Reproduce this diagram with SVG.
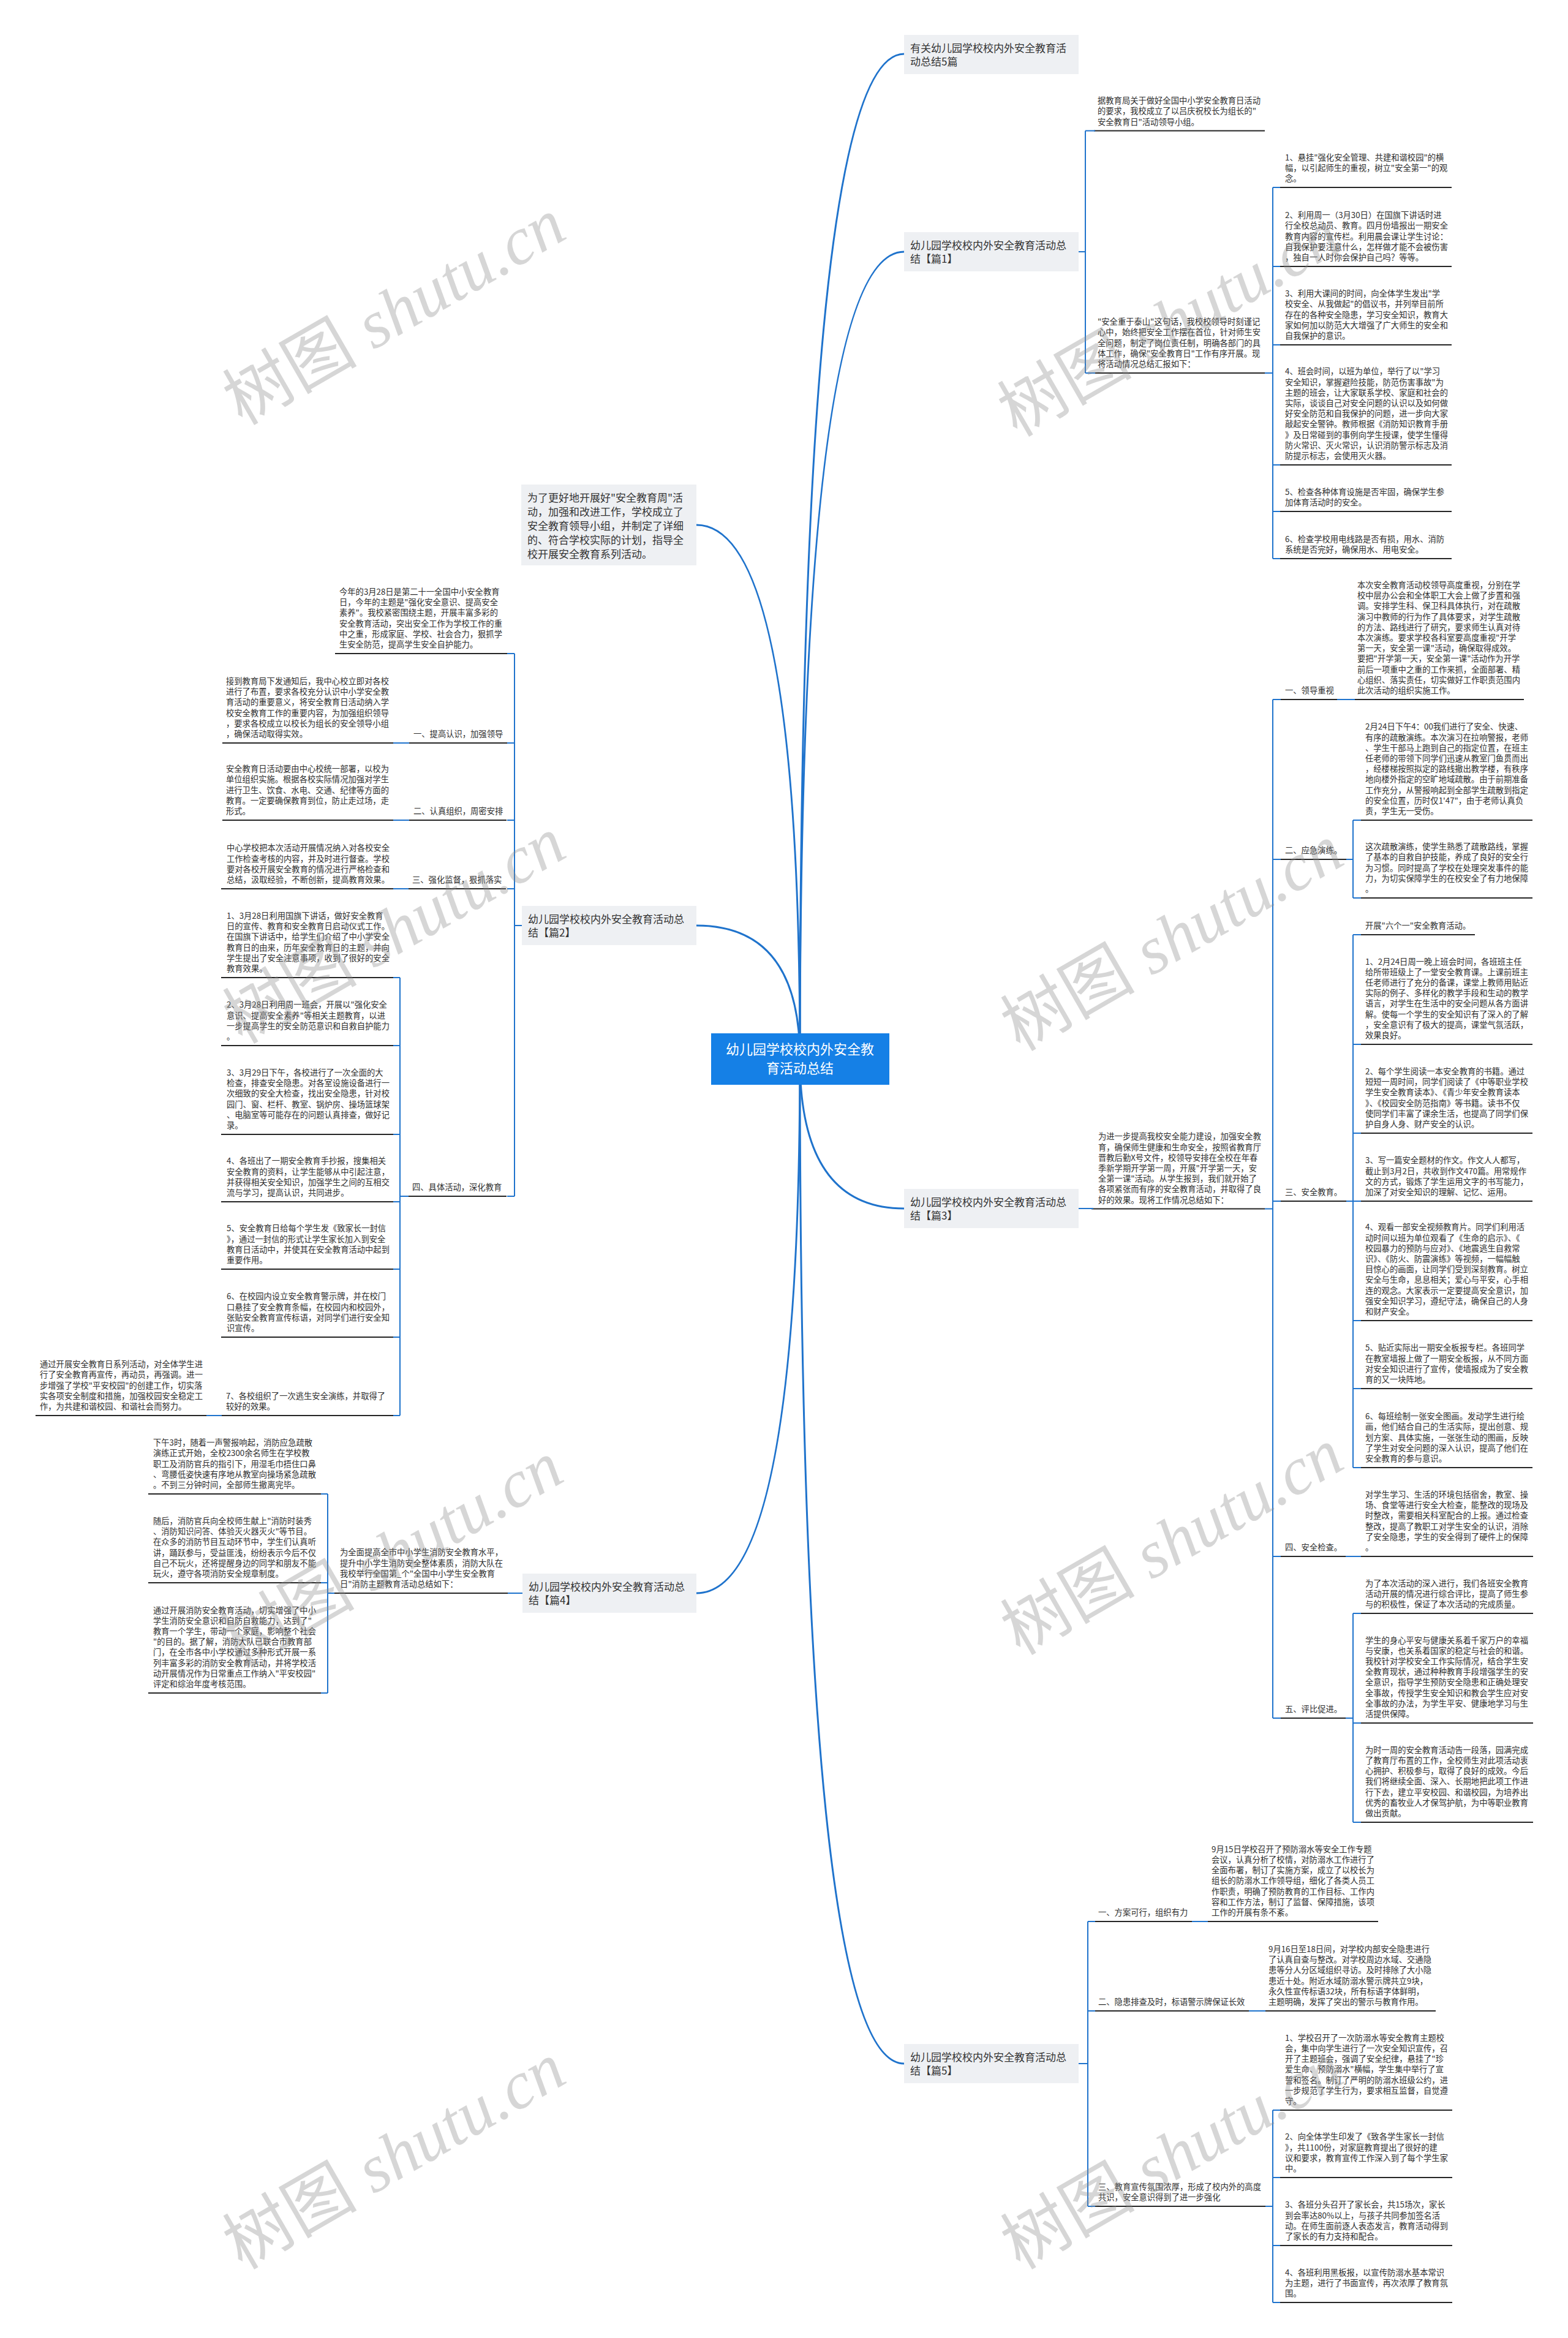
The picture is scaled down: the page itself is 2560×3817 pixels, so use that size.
<svg xmlns="http://www.w3.org/2000/svg" width="2560" height="3817" viewBox="0 0 2560 3817">
<style>
.t{font-family:"Noto Sans CJK SC","Noto Sans",sans-serif;font-size:13.3px;fill:#2e2e2e}
.h{font-family:"Noto Sans CJK SC","Noto Sans",sans-serif;font-size:17px;fill:#333}
.ctr{font-family:"Noto Sans CJK SC","Noto Sans",sans-serif;font-size:22px;fill:#fff;text-anchor:middle}
.box{fill:#eef0f3}
.ul{stroke:#262626;stroke-width:2.2;fill:none}
.cn{stroke:#1f73cc;stroke-width:2;fill:none}
.cv{stroke:#1f73cc;stroke-width:3;fill:none}
.wm{font-family:"Liberation Serif","Noto Sans CJK SC",serif;font-size:110px;fill:#8c8c8c;opacity:.35;text-anchor:middle}
</style>
<rect width="2560" height="3817" fill="#fff"/>

<g id="n-top"><rect class="box" x="1476" y="57" width="285" height="64"/><text class="h"><tspan x="1486" y="84.5">有关幼儿园学校校内外安全教育活</tspan><tspan x="1486" y="106.5">动总结5篇</tspan></text></g>
<g id="n-p1"><rect class="box" x="1476" y="379" width="285" height="64"/><text class="h"><tspan x="1486" y="406.5">幼儿园学校校内外安全教育活动总</tspan><tspan x="1486" y="428.5">结【篇1】</tspan></text></g>
<g id="n-intro"><rect class="box" x="851" y="791" width="286" height="132"/><text class="h"><tspan x="861" y="818.5">为了更好地开展好"安全教育周"活</tspan><tspan x="861" y="841.5">动，加强和改进工作，学校成立了</tspan><tspan x="861" y="864.5">安全教育领导小组，并制定了详细</tspan><tspan x="861" y="887.5">的、符合学校实际的计划，指导全</tspan><tspan x="861" y="910.5">校开展安全教育系列活动。</tspan></text></g>
<g id="n-p2"><rect class="box" x="852" y="1479" width="285" height="64"/><text class="h"><tspan x="862" y="1506.5">幼儿园学校校内外安全教育活动总</tspan><tspan x="862" y="1528.5">结【篇2】</tspan></text></g>
<g id="n-p3"><rect class="box" x="1476" y="1941" width="285" height="64"/><text class="h"><tspan x="1486" y="1968.5">幼儿园学校校内外安全教育活动总</tspan><tspan x="1486" y="1990.5">结【篇3】</tspan></text></g>
<g id="n-p4"><rect class="box" x="853" y="2569" width="284" height="64"/><text class="h"><tspan x="863" y="2596.5">幼儿园学校校内外安全教育活动总</tspan><tspan x="863" y="2618.5">结【篇4】</tspan></text></g>
<g id="n-p5"><rect class="box" x="1476" y="3337" width="285" height="64"/><text class="h"><tspan x="1486" y="3364.5">幼儿园学校校内外安全教育活动总</tspan><tspan x="1486" y="3386.5">结【篇5】</tspan></text></g>

<!-- 篇1 -->
<g id="n-a1"><line class="ul" x1="1786" y1="213.5" x2="2065" y2="213.5"/><text class="t"><tspan x="1792" y="169.1">据教育局关于做好全国中小学安全教育日活动</tspan><tspan x="1792" y="186.3">的要求，我校成立了以吕庆祝校长为组长的"</tspan><tspan x="1792" y="203.5">安全教育日"活动领导小组。</tspan></text></g>
<g id="n-a2"><line class="ul" x1="1786" y1="609" x2="2065" y2="609"/><text class="t"><tspan x="1792" y="530.2">"安全重于泰山"这句话，我校校领导时刻谨记</tspan><tspan x="1792" y="547.4">心中，始终把安全工作摆在首位，针对师生安</tspan><tspan x="1792" y="564.6">全问题，制定了岗位责任制，明确各部门的具</tspan><tspan x="1792" y="581.8">体工作，确保"安全教育日"工作有序开展。现</tspan><tspan x="1792" y="599">将活动情况总结汇报如下：</tspan></text></g>
<g id="n-i1"><line class="ul" x1="2088" y1="306" x2="2370" y2="306"/><text class="t"><tspan x="2098" y="261.6">1、悬挂"强化安全管理、共建和谐校园"的横</tspan><tspan x="2098" y="278.8">幅，以引起师生的重视，树立"安全第一"的观</tspan><tspan x="2098" y="296">念。</tspan></text></g>
<g id="n-i2"><line class="ul" x1="2088" y1="435" x2="2370" y2="435"/><text class="t"><tspan x="2098" y="356.2">2、利用周一（3月30日）在国旗下讲话时进</tspan><tspan x="2098" y="373.4">行全校总动员、教育。四月份墙报出一期安全</tspan><tspan x="2098" y="390.6">教育内容的宣传栏。利用晨会课让学生讨论：</tspan><tspan x="2098" y="407.8">自我保护要注意什么，怎样做才能不会被伤害</tspan><tspan x="2098" y="425">，独自一人时你会保护自己吗？等等。</tspan></text></g>
<g id="n-i3"><line class="ul" x1="2088" y1="563" x2="2370" y2="563"/><text class="t"><tspan x="2098" y="484.2">3、利用大课间的时间，向全体学生发出"学</tspan><tspan x="2098" y="501.4">校安全、从我做起"的倡议书，并列举目前所</tspan><tspan x="2098" y="518.6">存在的各种安全隐患，学习安全知识，教育大</tspan><tspan x="2098" y="535.8">家如何加以防范大大增强了广大师生的安全和</tspan><tspan x="2098" y="553">自我保护的意识。</tspan></text></g>
<g id="n-i4"><line class="ul" x1="2088" y1="759" x2="2370" y2="759"/><text class="t"><tspan x="2098" y="611.4">4、班会时间，以班为单位，举行了以"学习</tspan><tspan x="2098" y="628.6">安全知识，掌握避险技能，防范伤害事故"为</tspan><tspan x="2098" y="645.8">主题的班会，让大家联系学校、家庭和社会的</tspan><tspan x="2098" y="663">实际，谈谈自己对安全问题的认识以及如何做</tspan><tspan x="2098" y="680.2">好安全防范和自我保护的问题，进一步向大家</tspan><tspan x="2098" y="697.4">敲起安全警钟。教师根据《消防知识教育手册</tspan><tspan x="2098" y="714.6">》及日常碰到的事例向学生授课，使学生懂得</tspan><tspan x="2098" y="731.8">防火常识、灭火常识，认识消防警示标志及消</tspan><tspan x="2098" y="749">防提示标志，会使用灭火器。</tspan></text></g>
<g id="n-i5"><line class="ul" x1="2088" y1="835" x2="2370" y2="835"/><text class="t"><tspan x="2098" y="807.8">5、检查各种体育设施是否牢固，确保学生参</tspan><tspan x="2098" y="825">加体育活动时的安全。</tspan></text></g>
<g id="n-i6"><line class="ul" x1="2088" y1="912" x2="2370" y2="912"/><text class="t"><tspan x="2098" y="884.8">6、检查学校用电线路是否有损，用水、消防</tspan><tspan x="2098" y="902">系统是否完好，确保用水、用电安全。</tspan></text></g>

<!-- 篇2 -->
<g id="n-b1"><line class="ul" x1="547" y1="1067" x2="830" y2="1067"/><text class="t"><tspan x="554" y="971">今年的3月28日是第二十一全国中小安全教育</tspan><tspan x="554" y="988.2">日，今年的主题是"强化安全意识、提高安全</tspan><tspan x="554" y="1005.4">素养"。我校紧密围绕主题，开展丰富多彩的</tspan><tspan x="554" y="1022.6">安全教育活动，突出安全工作为学校工作的重</tspan><tspan x="554" y="1039.8">中之重，形成家庭、学校、社会合力，狠抓学</tspan><tspan x="554" y="1057">生安全防范，提高学生安全自护能力。</tspan></text></g>
<g id="n-b2"><line class="ul" x1="668" y1="1213" x2="828" y2="1213"/><text class="t"><tspan x="675" y="1203">一、提高认识，加强领导</tspan></text></g>
<g id="n-b2c"><line class="ul" x1="363" y1="1213" x2="642" y2="1213"/><text class="t"><tspan x="369" y="1117">接到教育局下发通知后，我中心校立即对各校</tspan><tspan x="369" y="1134.2">进行了布置，要求各校充分认识中小学安全教</tspan><tspan x="369" y="1151.4">育活动的重要意义，将安全教育日活动纳入学</tspan><tspan x="369" y="1168.6">校安全教育工作的重要内容，为加强组织领导</tspan><tspan x="369" y="1185.8">，要求各校成立以校长为组长的安全领导小组</tspan><tspan x="369" y="1203">，确保活动取得实效。</tspan></text></g>
<g id="n-b3"><line class="ul" x1="668" y1="1339" x2="827" y2="1339"/><text class="t"><tspan x="675" y="1329">二、认真组织，周密安排</tspan></text></g>
<g id="n-b3c"><line class="ul" x1="363" y1="1339" x2="642" y2="1339"/><text class="t"><tspan x="369" y="1260.2">安全教育日活动要由中心校统一部署，以校为</tspan><tspan x="369" y="1277.4">单位组织实施。根据各校实际情况加强对学生</tspan><tspan x="369" y="1294.6">进行卫生、饮食、水电、交通、纪律等方面的</tspan><tspan x="369" y="1311.8">教育。一定要确保教育到位，防止走过场，走</tspan><tspan x="369" y="1329">形式。</tspan></text></g>
<g id="n-b4"><line class="ul" x1="667" y1="1451" x2="826" y2="1451"/><text class="t"><tspan x="673" y="1441">三、强化监督，狠抓落实</tspan></text></g>
<g id="n-b4c"><line class="ul" x1="361" y1="1451" x2="642" y2="1451"/><text class="t"><tspan x="370" y="1389.4">中心学校把本次活动开展情况纳入对各校安全</tspan><tspan x="370" y="1406.6">工作检查考核的内容，并及时进行督查。学校</tspan><tspan x="370" y="1423.8">要对各校开展安全教育的情况进行严格检查和</tspan><tspan x="370" y="1441">总结，汲取经验，不断创新，提高教育效果。</tspan></text></g>
<g id="n-b5"><line class="ul" x1="667" y1="1953" x2="827" y2="1953"/><text class="t"><tspan x="673" y="1943">四、具体活动，深化教育</tspan></text></g>
<g id="n-c1"><line class="ul" x1="361" y1="1596" x2="642" y2="1596"/><text class="t"><tspan x="370" y="1500">1、3月28日利用国旗下讲话，做好安全教育</tspan><tspan x="370" y="1517.2">日的宣传、教育和安全教育日启动仪式工作。</tspan><tspan x="370" y="1534.4">在国旗下讲话中，给学生们介绍了中小学安全</tspan><tspan x="370" y="1551.6">教育日的由来，历年安全教育日的主题，并向</tspan><tspan x="370" y="1568.8">学生提出了安全注意事项，收到了很好的安全</tspan><tspan x="370" y="1586">教育效果。</tspan></text></g>
<g id="n-c2"><line class="ul" x1="361" y1="1707" x2="642" y2="1707"/><text class="t"><tspan x="370" y="1645.4">2、3月28日利用周一班会，开展以"强化安全</tspan><tspan x="370" y="1662.6">意识、提高安全素养"等相关主题教育，以进</tspan><tspan x="370" y="1679.8">一步提高学生的安全防范意识和自救自护能力</tspan><tspan x="370" y="1697">。</tspan></text></g>
<g id="n-c3"><line class="ul" x1="361" y1="1852" x2="642" y2="1852"/><text class="t"><tspan x="370" y="1756">3、3月29日下午，各校进行了一次全面的大</tspan><tspan x="370" y="1773.2">检查，排查安全隐患。对各室设施设备进行一</tspan><tspan x="370" y="1790.4">次细致的安全大检查，找出安全隐患，针对校</tspan><tspan x="370" y="1807.6">园门、窗、栏杆、教室、锅炉房、操场篮球架</tspan><tspan x="370" y="1824.8">、电脑室等可能存在的问题认真排查，做好记</tspan><tspan x="370" y="1842">录。</tspan></text></g>
<g id="n-c4"><line class="ul" x1="361" y1="1962" x2="642" y2="1962"/><text class="t"><tspan x="370" y="1900.4">4、各班出了一期安全教育手抄报，搜集相关</tspan><tspan x="370" y="1917.6">安全教育的资料，让学生能够从中引起注意，</tspan><tspan x="370" y="1934.8">并获得相关安全知识，加强学生之间的互相交</tspan><tspan x="370" y="1952">流与学习，提高认识，共同进步。</tspan></text></g>
<g id="n-c5"><line class="ul" x1="361" y1="2072" x2="642" y2="2072"/><text class="t"><tspan x="370" y="2010.4">5、安全教育日给每个学生发《致家长一封信</tspan><tspan x="370" y="2027.6">》，通过一封信的形式让学生家长加入到安全</tspan><tspan x="370" y="2044.8">教育日活动中，并使其在安全教育活动中起到</tspan><tspan x="370" y="2062">重要作用。</tspan></text></g>
<g id="n-c6"><line class="ul" x1="361" y1="2183" x2="642" y2="2183"/><text class="t"><tspan x="370" y="2121.4">6、在校园内设立安全教育警示牌，并在校门</tspan><tspan x="370" y="2138.6">口悬挂了安全教育条幅，在校园内和校园外，</tspan><tspan x="370" y="2155.8">张贴安全教育宣传标语，对同学们进行安全知</tspan><tspan x="370" y="2173">识宣传。</tspan></text></g>
<g id="n-c7"><line class="ul" x1="362" y1="2311" x2="644" y2="2311"/><text class="t"><tspan x="369" y="2283.8">7、各校组织了一次逃生安全演练，并取得了</tspan><tspan x="369" y="2301">较好的效果。</tspan></text></g>
<g id="n-c7c"><line class="ul" x1="58" y1="2311" x2="337" y2="2311"/><text class="t"><tspan x="65" y="2232.2">通过开展安全教育日系列活动，对全体学生进</tspan><tspan x="65" y="2249.4">行了安全教育再宣传，再动员，再强调。进一</tspan><tspan x="65" y="2266.6">步增强了学校"平安校园"的创建工作，切实落</tspan><tspan x="65" y="2283.8">实各项安全制度和措施，加强校园安全稳定工</tspan><tspan x="65" y="2301">作，为共建和谐校园、和谐社会而努力。</tspan></text></g>

<!-- 篇4 -->
<g id="n-d0"><line class="ul" x1="546" y1="2601" x2="829" y2="2601"/><text class="t"><tspan x="555" y="2539.4">为全面提高全市中小学生消防安全教育水平，</tspan><tspan x="555" y="2556.6">提升中小学生消防安全整体素质，消防大队在</tspan><tspan x="555" y="2573.8">我校举行全国第_个"全国中小学生安全教育</tspan><tspan x="555" y="2591">日"消防主题教育活动总结如下：</tspan></text></g>
<g id="n-d1"><line class="ul" x1="242" y1="2439" x2="526" y2="2439"/><text class="t"><tspan x="250" y="2360.2">下午3时，随着一声警报响起，消防应急疏散</tspan><tspan x="250" y="2377.4">演练正式开始，全校2300余名师生在学校教</tspan><tspan x="250" y="2394.6">职工及消防官兵的指引下，用湿毛巾捂住口鼻</tspan><tspan x="250" y="2411.8">、弯腰低姿快速有序地从教室向操场紧急疏散</tspan><tspan x="250" y="2429">。不到三分钟时间，全部师生撤离完毕。</tspan></text></g>
<g id="n-d2"><line class="ul" x1="242" y1="2584" x2="526" y2="2584"/><text class="t"><tspan x="250" y="2488">随后，消防官兵向全校师生献上"消防时装秀</tspan><tspan x="250" y="2505.2">、消防知识问答、体验灭火器灭火"等节目。</tspan><tspan x="250" y="2522.4">在众多的消防节目互动环节中，学生们认真听</tspan><tspan x="250" y="2539.6">讲，踊跃参与，受益匪浅，纷纷表示今后不仅</tspan><tspan x="250" y="2556.8">自己不玩火，还将提醒身边的同学和朋友不能</tspan><tspan x="250" y="2574">玩火，遵守各项消防安全规章制度。</tspan></text></g>
<g id="n-d3"><line class="ul" x1="242" y1="2764" x2="526" y2="2764"/><text class="t"><tspan x="250" y="2633.6">通过开展消防安全教育活动，切实增强了中小</tspan><tspan x="250" y="2650.8">学生消防安全意识和自防自救能力，达到了"</tspan><tspan x="250" y="2668">教育一个学生，带动一个家庭，影响整个社会</tspan><tspan x="250" y="2685.2">"的目的。据了解，消防大队已联合市教育部</tspan><tspan x="250" y="2702.4">门，在全市各中小学校通过多种形式开展一系</tspan><tspan x="250" y="2719.6">列丰富多彩的消防安全教育活动，并将学校活</tspan><tspan x="250" y="2736.8">动开展情况作为日常重点工作纳入"平安校园"</tspan><tspan x="250" y="2754">评定和综治年度考核范围。</tspan></text></g>

<!-- 篇3 -->
<g id="n-e0"><line class="ul" x1="1782" y1="1973.5" x2="2065" y2="1973.5"/><text class="t"><tspan x="1793" y="1860.3">为进一步提高我校安全能力建设，加强安全教</tspan><tspan x="1793" y="1877.5">育，确保师生健康和生命安全，按照省教育厅</tspan><tspan x="1793" y="1894.7">晋教后勤X号文件，校领导安排在全校在年春</tspan><tspan x="1793" y="1911.9">季新学期开学第一周，开展"开学第一天，安</tspan><tspan x="1793" y="1929.1">全第一课"活动。从学生报到，我们就开始了</tspan><tspan x="1793" y="1946.3">各项紧张而有序的安全教育活动，并取得了良</tspan><tspan x="1793" y="1963.5">好的效果。现将工作情况总结如下：</tspan></text></g>
<g id="n-l1"><line class="ul" x1="2091" y1="1142" x2="2183" y2="1142"/><text class="t"><tspan x="2098" y="1132">一、领导重视</tspan></text></g>
<g id="n-l1c"><line class="ul" x1="2209" y1="1142" x2="2488" y2="1142"/><text class="t"><tspan x="2216" y="960">本次安全教育活动校领导高度重视，分别在学</tspan><tspan x="2216" y="977.2">校中层办公会和全体职工大会上做了步置和强</tspan><tspan x="2216" y="994.4">调。安排学生科、保卫科具体执行，对在疏散</tspan><tspan x="2216" y="1011.6">演习中教师的行为作了具体要求，对学生疏散</tspan><tspan x="2216" y="1028.8">的方法、路线进行了研究，要求师生认真对待</tspan><tspan x="2216" y="1046">本次演练。要求学校各科室要高度重视"开学</tspan><tspan x="2216" y="1063.2">第一天，安全第一课"活动，确保取得成效。</tspan><tspan x="2216" y="1080.4">要把"开学第一天，安全第一课"活动作为开学</tspan><tspan x="2216" y="1097.6">前后一项重中之重的工作来抓，全面部署、精</tspan><tspan x="2216" y="1114.8">心组织、落实责任，切实做好工作职责范围内</tspan><tspan x="2216" y="1132">此次活动的组织实施工作。</tspan></text></g>
<g id="n-l2"><line class="ul" x1="2091" y1="1403" x2="2198" y2="1403"/><text class="t"><tspan x="2098" y="1393">二、应急演练。</tspan></text></g>
<g id="n-l2a"><line class="ul" x1="2209" y1="1339" x2="2502" y2="1339"/><text class="t"><tspan x="2229" y="1191.4">2月24日下午4：00我们进行了安全、快速、</tspan><tspan x="2229" y="1208.6">有序的疏散演练。本次演习在拉响警报，老师</tspan><tspan x="2229" y="1225.8">、学生干部马上跑到自己的指定位置，在班主</tspan><tspan x="2229" y="1243">任老师的带领下同学们迅速从教室门鱼贯而出</tspan><tspan x="2229" y="1260.2">，经楼梯按照拟定的路线撤出教学楼，有秩序</tspan><tspan x="2229" y="1277.4">地向楼外指定的空旷地域疏散。由于前期准备</tspan><tspan x="2229" y="1294.6">工作充分，从警报响起到全部学生疏散到指定</tspan><tspan x="2229" y="1311.8">的安全位置，历时仅1'47"，由于老师认真负</tspan><tspan x="2229" y="1329">责，学生无一受伤。</tspan></text></g>
<g id="n-l2b"><line class="ul" x1="2209" y1="1466" x2="2502" y2="1466"/><text class="t"><tspan x="2229" y="1387.2">这次疏散演练，使学生熟悉了疏散路线，掌握</tspan><tspan x="2229" y="1404.4">了基本的自救自护技能，养成了良好的安全行</tspan><tspan x="2229" y="1421.6">为习惯。同时提高了学校在处理突发事件的能</tspan><tspan x="2229" y="1438.8">力，为切实保障学生的在校安全了有力地保障</tspan><tspan x="2229" y="1456">。</tspan></text></g>
<g id="n-l3"><line class="ul" x1="2091" y1="1961" x2="2198" y2="1961"/><text class="t"><tspan x="2098" y="1951">三、安全教育。</tspan></text></g>
<g id="n-l3a"><line class="ul" x1="2209" y1="1526" x2="2408" y2="1526"/><text class="t"><tspan x="2229" y="1516">开展"六个一"安全教育活动。</tspan></text></g>
<g id="n-l3b"><line class="ul" x1="2209" y1="1705" x2="2502" y2="1705"/><text class="t"><tspan x="2229" y="1574.6">1、2月24日周一晚上班会时间，各班班主任</tspan><tspan x="2229" y="1591.8">给所带班级上了一堂安全教育课。上课前班主</tspan><tspan x="2229" y="1609">任老师进行了充分的备课，课堂上教师用贴近</tspan><tspan x="2229" y="1626.2">实际的例子、多样化的教学手段和生动的教学</tspan><tspan x="2229" y="1643.4">语言，对学生在生活中的安全问题从各方面讲</tspan><tspan x="2229" y="1660.6">解。使每一个学生的安全知识有了深入的了解</tspan><tspan x="2229" y="1677.8">，安全意识有了极大的提高，课堂气氛活跃，</tspan><tspan x="2229" y="1695">效果良好。</tspan></text></g>
<g id="n-l3c"><line class="ul" x1="2209" y1="1850" x2="2502" y2="1850"/><text class="t"><tspan x="2229" y="1754">2、每个学生阅读一本安全教育的书籍。通过</tspan><tspan x="2229" y="1771.2">短短一周时间，同学们阅读了《中等职业学校</tspan><tspan x="2229" y="1788.4">学生安全教育读本》、《青少年安全教育读本</tspan><tspan x="2229" y="1805.6">》、《校园安全防范指南》等书籍。读书不仅</tspan><tspan x="2229" y="1822.8">使同学们丰富了课余生活，也提高了同学们保</tspan><tspan x="2229" y="1840">护自身人身、财产安全的认识。</tspan></text></g>
<g id="n-l3d"><line class="ul" x1="2209" y1="1961" x2="2502" y2="1961"/><text class="t"><tspan x="2229" y="1899.4">3、写一篇安全题材的作文。作文人人都写，</tspan><tspan x="2229" y="1916.6">截止到3月2日，共收到作文470篇。用常规作</tspan><tspan x="2229" y="1933.8">文的方式，锻炼了学生运用文字的书写能力，</tspan><tspan x="2229" y="1951">加深了对安全知识的理解、记忆、运用。</tspan></text></g>
<g id="n-l3e"><line class="ul" x1="2209" y1="2156" x2="2502" y2="2156"/><text class="t"><tspan x="2229" y="2008.4">4、观看一部安全视频教育片。同学们利用活</tspan><tspan x="2229" y="2025.6">动时间以班为单位观看了《生命的启示》、《</tspan><tspan x="2229" y="2042.8">校园暴力的预防与应对》、《地震逃生自救常</tspan><tspan x="2229" y="2060">识》、《防火、防震演练》等视频，一幅幅触</tspan><tspan x="2229" y="2077.2">目惊心的画面，让同学们受到深刻教育。树立</tspan><tspan x="2229" y="2094.4">安全与生命，息息相关；爱心与平安，心手相</tspan><tspan x="2229" y="2111.6">连的观念。大家表示一定要提高安全意识，加</tspan><tspan x="2229" y="2128.8">强安全知识学习，遵纪守法，确保自己的人身</tspan><tspan x="2229" y="2146">和财产安全。</tspan></text></g>
<g id="n-l3f"><line class="ul" x1="2209" y1="2267" x2="2502" y2="2267"/><text class="t"><tspan x="2229" y="2205.4">5、贴近实际出一期安全板报专栏。各班同学</tspan><tspan x="2229" y="2222.6">在教室墙报上做了一期安全板报，从不同方面</tspan><tspan x="2229" y="2239.8">对安全知识进行了宣传，使墙报成为了安全教</tspan><tspan x="2229" y="2257">育的又一块阵地。</tspan></text></g>
<g id="n-l3g"><line class="ul" x1="2209" y1="2396" x2="2502" y2="2396"/><text class="t"><tspan x="2229" y="2317.2">6、每班绘制一张安全图画。发动学生进行绘</tspan><tspan x="2229" y="2334.4">画，他们结合自己的生活实际，提出创意、规</tspan><tspan x="2229" y="2351.6">划方案、具体实施，一张张生动的图画，反映</tspan><tspan x="2229" y="2368.8">了学生对安全问题的深入认识，提高了他们在</tspan><tspan x="2229" y="2386">安全教育的参与意识。</tspan></text></g>
<g id="n-l4"><line class="ul" x1="2090" y1="2541" x2="2197" y2="2541"/><text class="t"><tspan x="2098" y="2531">四、安全检查。</tspan></text></g>
<g id="n-l4c"><line class="ul" x1="2209" y1="2541" x2="2503" y2="2541"/><text class="t"><tspan x="2229" y="2445">对学生学习、生活的环境包括宿舍，教室、操</tspan><tspan x="2229" y="2462.2">场、食堂等进行安全大检查，能整改的现场及</tspan><tspan x="2229" y="2479.4">时整改，需要相关科室配合的上报。通过检查</tspan><tspan x="2229" y="2496.6">整改，提高了教职工对学生安全的认识，消除</tspan><tspan x="2229" y="2513.8">了安全隐患，学生的安全得到了硬件上的保障</tspan><tspan x="2229" y="2531">。</tspan></text></g>
<g id="n-l5"><line class="ul" x1="2090" y1="2805" x2="2197" y2="2805"/><text class="t"><tspan x="2098" y="2795">五、评比促进。</tspan></text></g>
<g id="n-l5a"><line class="ul" x1="2209" y1="2634" x2="2503" y2="2634"/><text class="t"><tspan x="2229" y="2589.6">为了本次活动的深入进行，我们各班安全教育</tspan><tspan x="2229" y="2606.8">活动开展的情况进行综合评比，提高了师生参</tspan><tspan x="2229" y="2624">与的积极性，保证了本次活动的完成质量。</tspan></text></g>
<g id="n-l5b"><line class="ul" x1="2209" y1="2813" x2="2503" y2="2813"/><text class="t"><tspan x="2229" y="2682.6">学生的身心平安与健康关系着千家万户的幸福</tspan><tspan x="2229" y="2699.8">与安康，也关系着国家的稳定与社会的和谐。</tspan><tspan x="2229" y="2717">我校针对学校安全工作实际情况，结合学生安</tspan><tspan x="2229" y="2734.2">全教育现状，通过种种教育手段增强学生的安</tspan><tspan x="2229" y="2751.4">全意识，指导学生预防安全隐患和正确处理安</tspan><tspan x="2229" y="2768.6">全事故，传授学生安全知识和教会学生应对安</tspan><tspan x="2229" y="2785.8">全事故的办法，为学生平安、健康地学习与生</tspan><tspan x="2229" y="2803">活提供保障。</tspan></text></g>
<g id="n-l5c"><line class="ul" x1="2209" y1="2975" x2="2503" y2="2975"/><text class="t"><tspan x="2229" y="2861.8">为时一周的安全教育活动告一段落，园满完成</tspan><tspan x="2229" y="2879">了教育厅布置的工作，全校师生对此项活动衷</tspan><tspan x="2229" y="2896.2">心拥护、积极参与，取得了良好的成效。今后</tspan><tspan x="2229" y="2913.4">我们将继续全面、深入、长期地把此项工作进</tspan><tspan x="2229" y="2930.6">行下去，建立平安校园、和谐校园，为培养出</tspan><tspan x="2229" y="2947.8">优秀的畜牧业人才保驾护航，为中等职业教育</tspan><tspan x="2229" y="2965">做出贡献。</tspan></text></g>

<!-- 篇5 -->
<g id="n-f1"><line class="ul" x1="1786" y1="3137" x2="1946" y2="3137"/><text class="t"><tspan x="1793" y="3127">一、方案可行，组织有力</tspan></text></g>
<g id="n-f1c"><line class="ul" x1="1970" y1="3137" x2="2250" y2="3137"/><text class="t"><tspan x="1978" y="3023.8">9月15日学校召开了预防溺水等安全工作专题</tspan><tspan x="1978" y="3041">会议，认真分析了校情，对防溺水工作进行了</tspan><tspan x="1978" y="3058.2">全面布署，制订了实施方案，成立了以校长为</tspan><tspan x="1978" y="3075.4">组长的防溺水工作领导组，细化了各类人员工</tspan><tspan x="1978" y="3092.6">作职责，明确了预防教育的工作目标、工作内</tspan><tspan x="1978" y="3109.8">容和工作方法，制订了监督、保障措施，该项</tspan><tspan x="1978" y="3127">工作的开展有条不紊。</tspan></text></g>
<g id="n-f2"><line class="ul" x1="1786" y1="3283" x2="2039" y2="3283"/><text class="t"><tspan x="1793" y="3273">二、隐患排查及时，标语警示牌保证长效</tspan></text></g>
<g id="n-f2c"><line class="ul" x1="2064" y1="3283" x2="2344" y2="3283"/><text class="t"><tspan x="2071" y="3187">9月16日至18日间，对学校内部安全隐患进行</tspan><tspan x="2071" y="3204.2">了认真自查与整改。对学校周边水域、交通隐</tspan><tspan x="2071" y="3221.4">患等分人分区域组织寻访。及时排除了大小隐</tspan><tspan x="2071" y="3238.6">患近十处。附近水域防溺水警示牌共立9块，</tspan><tspan x="2071" y="3255.8">永久性宣传标语32块，所有标语字体鲜明，</tspan><tspan x="2071" y="3273">主题明确，发挥了突出的警示与教育作用。</tspan></text></g>
<g id="n-f3"><line class="ul" x1="1786" y1="3602" x2="2066" y2="3602"/><text class="t"><tspan x="1793" y="3574.8">三、教育宣传氛围浓厚，形成了校内外的高度</tspan><tspan x="1793" y="3592">共识，安全意识得到了进一步强化</tspan></text></g>
<g id="n-f3a"><line class="ul" x1="2088" y1="3445" x2="2371" y2="3445"/><text class="t"><tspan x="2098" y="3331.8">1、学校召开了一次防溺水等安全教育主题校</tspan><tspan x="2098" y="3349">会，集中向学生进行了一次安全知识宣传，召</tspan><tspan x="2098" y="3366.2">开了主题班会，强调了安全纪律，悬挂了"珍</tspan><tspan x="2098" y="3383.4">爱生命、预防溺水"横幅，学生集中举行了宣</tspan><tspan x="2098" y="3400.6">誓和签名。制订了严明的防溺水班级公约，进</tspan><tspan x="2098" y="3417.8">一步规范了学生行为，要求相互监督，自觉遵</tspan><tspan x="2098" y="3435">守。</tspan></text></g>
<g id="n-f3b"><line class="ul" x1="2088" y1="3555" x2="2371" y2="3555"/><text class="t"><tspan x="2098" y="3493.4">2、向全体学生印发了《致各学生家长一封信</tspan><tspan x="2098" y="3510.6">》，共1100份，对家庭教育提出了很好的建</tspan><tspan x="2098" y="3527.8">议和要求，教育宣传工作深入到了每个学生家</tspan><tspan x="2098" y="3545">中。</tspan></text></g>
<g id="n-f3c"><line class="ul" x1="2088" y1="3666" x2="2371" y2="3666"/><text class="t"><tspan x="2098" y="3604.4">3、各班分头召开了家长会，共15场次，家长</tspan><tspan x="2098" y="3621.6">到会率达80%以上，与孩子共同参加签名活</tspan><tspan x="2098" y="3638.8">动。在师生面前逐人表态发言，教育活动得到</tspan><tspan x="2098" y="3656">了家长的有力支持和配合。</tspan></text></g>
<g id="n-f3d"><line class="ul" x1="2088" y1="3759" x2="2371" y2="3759"/><text class="t"><tspan x="2098" y="3714.6">4、各班利用黑板报，以宣传防溺水基本常识</tspan><tspan x="2098" y="3731.8">为主题，进行了书面宣传，再次浓厚了教育氛</tspan><tspan x="2098" y="3749">围。</tspan></text></g>

<g id="connectors">
<path class="cv" d="M1306 1729Q1306 88 1476 88"/>
<path class="cv" d="M1306 1729Q1306 411 1476 411"/>
<path class="cv" d="M1306 1729Q1306 857 1137 857"/>
<path class="cv" d="M1306 1729Q1306 1511 1137 1511"/>
<path class="cv" d="M1306 1729Q1306 1973 1476 1973"/>
<path class="cv" d="M1306 1729Q1306 2601 1137 2601"/>
<path class="cv" d="M1306 1729Q1306 3369 1476 3369"/>
<path class="cn" d="M1761 411H1772M1772 213.5V609M1772 213.5H1788M1772 609H1788"/>
<path class="cn" d="M2065 609H2078M2078 306V912M2078 306H2090M2078 435H2090M2078 563H2090M2078 759H2090M2078 835H2090M2078 912H2090"/>
<path class="cn" d="M852 1511H840M840 1067V1953M840 1067H828M840 1213H828M840 1339H828M840 1451H828M840 1953H828"/>
<path class="cn" d="M668 1213H642M668 1339H642M667 1451H642"/>
<path class="cn" d="M667 1953H653M653 1596V2311M653 1596H642M653 1707H642M653 1852H642M653 1962H642M653 2072H642M653 2183H642M653 2311H642"/>
<path class="cn" d="M362 2311H337"/>
<path class="cn" d="M853 2601H829M546 2601H535M535 2439V2764M535 2439H524M535 2584H524M535 2764H524"/>
<path class="cn" d="M1761 1973H1785M2065 1973.5H2078M2078 1142V2805M2078 1142H2091M2078 1403H2091M2078 1961H2091M2078 2541H2091M2078 2805H2091"/>
<path class="cn" d="M2183 1142H2212"/>
<path class="cn" d="M2198 1403H2209M2209 1339V1466M2209 1339H2222M2209 1466H2222"/>
<path class="cn" d="M2198 1961H2209M2209 1526V2396M2209 1526H2222M2209 1705H2222M2209 1850H2222M2209 1961H2222M2209 2156H2222M2209 2267H2222M2209 2396H2222"/>
<path class="cn" d="M2197 2541H2222"/>
<path class="cn" d="M2197 2805H2209M2209 2634V2975M2209 2634H2222M2209 2813H2222M2209 2975H2222"/>
<path class="cn" d="M1761 3369H1776M1776 3137V3602M1776 3137H1788M1776 3283H1788M1776 3602H1788"/>
<path class="cn" d="M1946 3137H1972M2039 3283H2066"/>
<path class="cn" d="M2066 3602H2078M2078 3445V3759M2078 3445H2090M2078 3555H2090M2078 3666H2090M2078 3759H2090"/>
</g>

<g id="n-center"><rect x="1161" y="1687" width="291" height="84" fill="#1580e6"/><text class="ctr"><tspan x="1306" y="1721">幼儿园学校校内外安全教</tspan><tspan x="1306" y="1752">育活动总结</tspan></text></g>

<g id="watermarks">
<text class="wm" x="645" y="546" transform="rotate(-30 645 511)">树图 <tspan font-style="italic">shutu.cn</tspan></text>
<text class="wm" x="1910" y="565" transform="rotate(-30 1910 530)">树图 <tspan font-style="italic">shutu.cn</tspan></text>
<text class="wm" x="645" y="1556" transform="rotate(-30 645 1521)">树图 <tspan font-style="italic">shutu.cn</tspan></text>
<text class="wm" x="1915" y="1568" transform="rotate(-30 1915 1533)">树图 <tspan font-style="italic">shutu.cn</tspan></text>
<text class="wm" x="641" y="2575" transform="rotate(-30 641 2540)">树图 <tspan font-style="italic">shutu.cn</tspan></text>
<text class="wm" x="1915" y="2554" transform="rotate(-30 1915 2519)">树图 <tspan font-style="italic">shutu.cn</tspan></text>
<text class="wm" x="645" y="3557" transform="rotate(-30 645 3522)">树图 <tspan font-style="italic">shutu.cn</tspan></text>
<text class="wm" x="1915" y="3557" transform="rotate(-30 1915 3522)">树图 <tspan font-style="italic">shutu.cn</tspan></text>
</g>
</svg>
